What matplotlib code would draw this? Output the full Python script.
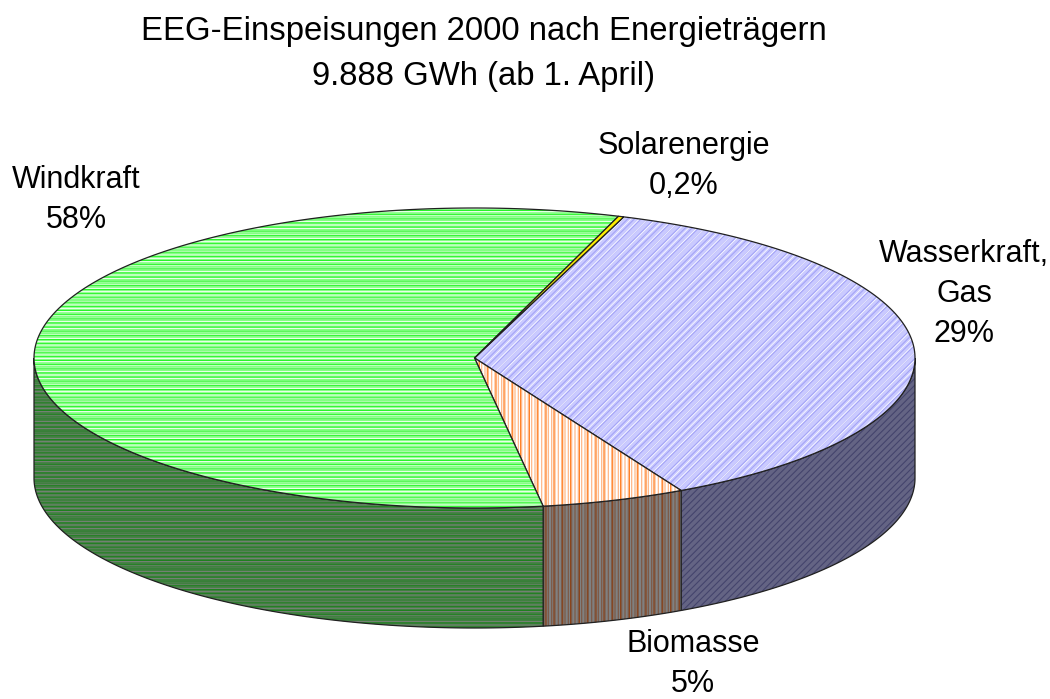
import numpy as np
import matplotlib
matplotlib.use("Agg")
import matplotlib.pyplot as plt
from matplotlib.patches import Polygon

plt.rcParams["font.family"] = ["Liberation Sans", "DejaVu Sans"]

# slice sizes as drawn in the picture, clockwise from the top right
# (the printed labels do not add up, the Wasserkraft slice is drawn bigger than 29%)
slices = ["Wasserkraft", "Biomasse", "Windkraft", "Solarenergie"]
drawn_share = [36.73, 5.28, 57.79, 0.2]
label_lines = ["Wasserkraft,\nGas\n29%", "Biomasse\n5%", "Windkraft\n58%", "Solarenergie\n0,2%"]

# pie shape in pixels
CX, CY = 474.5, 358
RX, RY = 440.5, 150
DEPTH = 120
START = 70.2

top_style = {
    "Wasserkraft": ("#cacaff", [("/////", "#a4a4f6", 0.8), ("////", "#ffffff", 0.5)]),
    "Biomasse": ("#ffffff", [("||", "#ff7a1a", 1.1), ("|||||", "#ffb98a", 0.9)]),
    "Windkraft": ("#84ff84", [("-----", "#ffffff", 0.7), ("----", "#00f000", 0.5)]),
    "Solarenergie": ("#ffee00", []),
}
side_style = {
    "Wasserkraft": ("#646484", [("/////", "#44446c", 0.8)]),
    "Biomasse": ("#808080", [("||", "#8a4015", 1.1), ("|||||", "#7c5a48", 0.9)]),
    "Windkraft": ("#408040", [("-----", "#808080", 0.7), ("----", "#108010", 0.5)]),
    "Solarenergie": ("#807000", []),
}


def arc(a1, a2, n=200):
    t = np.radians(np.linspace(a1, a2, n))
    return CX + RX * np.cos(t), CY - RY * np.sin(t)


def shape(ax, pts, style, z):
    face, hatches = style
    ax.add_patch(Polygon(pts, closed=True, facecolor=face, edgecolor="none", linewidth=0, zorder=z))
    for hatch, color, lw in hatches:
        plt.rcParams["hatch.linewidth"] = lw
        ax.add_patch(Polygon(pts, closed=True, facecolor="none", edgecolor=color,
                             hatch=hatch, linewidth=0, zorder=z))
    ax.add_patch(Polygon(pts, closed=True, fill=False, edgecolor="#202020", linewidth=0.9, zorder=z))


fig = plt.figure(figsize=(10.5, 6.99), dpi=100)
ax = fig.add_axes([0, 0, 1, 1])
ax.set_xlim(0, 1050)
ax.set_ylim(699, 0)
ax.axis("off")

# angles go clockwise, so they get smaller
edges = START - np.cumsum([0] + drawn_share) * 3.6

# side walls, only the part facing the viewer
for name, a1, a2 in zip(slices, edges[:-1], edges[1:]):
    lo = np.clip(a1, -180, 0)
    hi = np.clip(a2, -180, 0)
    if lo == hi:
        continue
    x, y = arc(lo, hi)
    pts = np.column_stack([np.r_[x, x[::-1]], np.r_[y, y[::-1] + DEPTH]])
    shape(ax, pts, side_style[name], 2)

# top surface
for name, a1, a2 in zip(slices, edges[:-1], edges[1:]):
    x, y = arc(a1, a2)
    pts = np.column_stack([np.r_[CX, x], np.r_[CY, y]])
    shape(ax, pts, top_style[name], 3)

ax.text(484, 54, "EEG-Einspeisungen 2000 nach Energieträgern\n9.888 GWh (ab 1. April)",
        ha="center", va="center", fontsize=23.7, linespacing=1.6, color="black")

label_pos = [(964, 294, "center"), (693, 664, "center"), (76, 200, "center"), (684, 166, "center")]
for text, (x, y, ha) in zip(label_lines, label_pos):
    ax.text(x, y, text, ha=ha, va="center", fontsize=22, linespacing=1.45, color="black")

fig.savefig("out.png", dpi=100)
